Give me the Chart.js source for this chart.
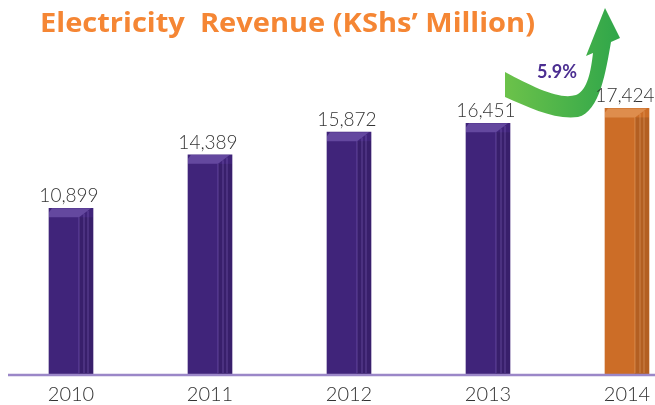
<!DOCTYPE html>
<html>
<head>
<meta charset="utf-8">
<script src="https://cdn.jsdelivr.net/npm/chart.js@4.4.0/dist/chart.umd.min.js"></script>
<style>
  html, body { margin: 0; padding: 0; background: #fff; }
  #wrap { width: 655px; height: 405px; }
</style>
</head>
<body>
<div id="wrap"><canvas id="revenueChart"></canvas></div>
<script>
// Electricity revenue, KShs million
const years = ['2010', '2011', '2012', '2013', '2014'];
const revenue = [10899, 14389, 15872, 16451, 17424];
const growthLabel = '5.9%';
const titleText = 'Electricity  Revenue (KShs\u2019 Million)';

const purple = '#40247a';
const orange = '#cc6d27';
const barColors = years.map((y, i) => i === years.length - 1 ? orange : purple);

// title, baseline, value labels, bevels and the growth arrow
const decorPlugin = {
    id: 'decor',
    afterDatasetsDraw(chart) {
        const ctx = chart.ctx;
        const yScale = chart.scales.y;
        const base = yScale.getPixelForValue(0);
        const meta = chart.getDatasetMeta(0);

        // fake 3D bevels on each bar
        meta.data.forEach((bar, i) => {
            const w = bar.width;
            const left = bar.x - w / 2;
            const right = bar.x + w / 2;
            const top = bar.y;
            const light = i === years.length - 1 ? 'rgba(255,200,150,0.35)' : 'rgba(170,140,230,0.35)';
            const dark = 'rgba(0,0,0,0.12)';
            ctx.save();
            // darker side face
            ctx.fillStyle = dark;
            ctx.fillRect(right - 14, top + 9, 14, base - top - 9);
            // top bevel
            ctx.fillStyle = light;
            ctx.beginPath();
            ctx.moveTo(left + 3, top);
            ctx.lineTo(right - 2, top);
            ctx.lineTo(right - 14, top + 9);
            ctx.lineTo(left, top + 9);
            ctx.lineTo(left, top + 4);
            ctx.closePath();
            ctx.fill();
            // side strips
            ctx.strokeStyle = light;
            ctx.lineWidth = 1;
            [14, 9, 5].forEach(off => {
                ctx.beginPath();
                ctx.moveTo(right - off, top + 9 - (14 - off) * 0.7);
                ctx.lineTo(right - off, base - 2);
                ctx.stroke();
            });
            ctx.restore();
        });

        // baseline
        ctx.save();
        ctx.strokeStyle = '#9b87c8';
        ctx.lineWidth = 2.5;
        ctx.beginPath();
        ctx.moveTo(8, base);
        ctx.lineTo(chart.width, base);
        ctx.stroke();
        ctx.restore();

        // growth arrow
        ctx.save();
        const g = ctx.createLinearGradient(505, 0, 620, 0);
        g.addColorStop(0, '#6cc24a');
        g.addColorStop(1, '#2fa64a');
        ctx.fillStyle = g;
        ctx.beginPath();
        ctx.moveTo(505, 72);
        ctx.bezierCurveTo(535, 88, 560, 100, 576, 95);
        ctx.bezierCurveTo(588, 90, 591, 70, 593, 53);
        ctx.lineTo(586, 56);
        ctx.lineTo(605, 8);
        ctx.lineTo(620, 38);
        ctx.lineTo(611, 42);
        ctx.bezierCurveTo(606, 70, 600, 112, 578, 117);
        ctx.bezierCurveTo(555, 120, 530, 108, 505, 97);
        ctx.closePath();
        ctx.fill();
        ctx.fillStyle = '#4b2e91';
        ctx.font = 'bold 18px Lato';
        ctx.textAlign = 'center';
        ctx.fillText(growthLabel, 557, 78);
        ctx.restore();

        // value labels
        ctx.save();
        ctx.fillStyle = '#333';
        ctx.font = '300 19px Lato';
        ctx.textAlign = 'center';
        ctx.textBaseline = 'alphabetic';
        meta.data.forEach((bar, i) => {
            ctx.fillText(revenue[i].toLocaleString('en-US'), bar.x - 2, bar.y - 6);
        });
        ctx.restore();

        // title
        ctx.save();
        ctx.fillStyle = '#f58634';
        ctx.font = 'bold 26px "Open Sans"';
        ctx.textAlign = 'left';
        const tw = ctx.measureText(titleText).width;
        ctx.translate(40, 32);
        ctx.scale(495 / tw, 1);
        ctx.fillText(titleText, 0, 0);
        ctx.restore();
    }
};

new Chart(document.getElementById('revenueChart'), {
    type: 'bar',
    data: {
        labels: years,
        datasets: [{
            data: revenue,
            backgroundColor: barColors,
            barThickness: 44,
            borderWidth: 0,
            clip: false,
        }],
    },
    options: {
        responsive: true,
        maintainAspectRatio: false,
        animation: false,
        layout: { padding: { left: 71, right: 28, top: 69, bottom: 0 } },
        plugins: {
            legend: { display: false },
            tooltip: { enabled: false },
            title: { display: false },
        },
        scales: {
            x: {
                offset: false,
                grid: { display: false },
                border: { display: false },
                ticks: { color: '#333', font: { family: 'Lato', size: 20, weight: '300' }, padding: 0 },
                afterFit(scale) { scale.height = 30; },
            },
            y: {
                display: false,
                min: 0,
                max: 20000,
            },
        },
    },
    plugins: [decorPlugin],
});
</script>
</body>
</html>
